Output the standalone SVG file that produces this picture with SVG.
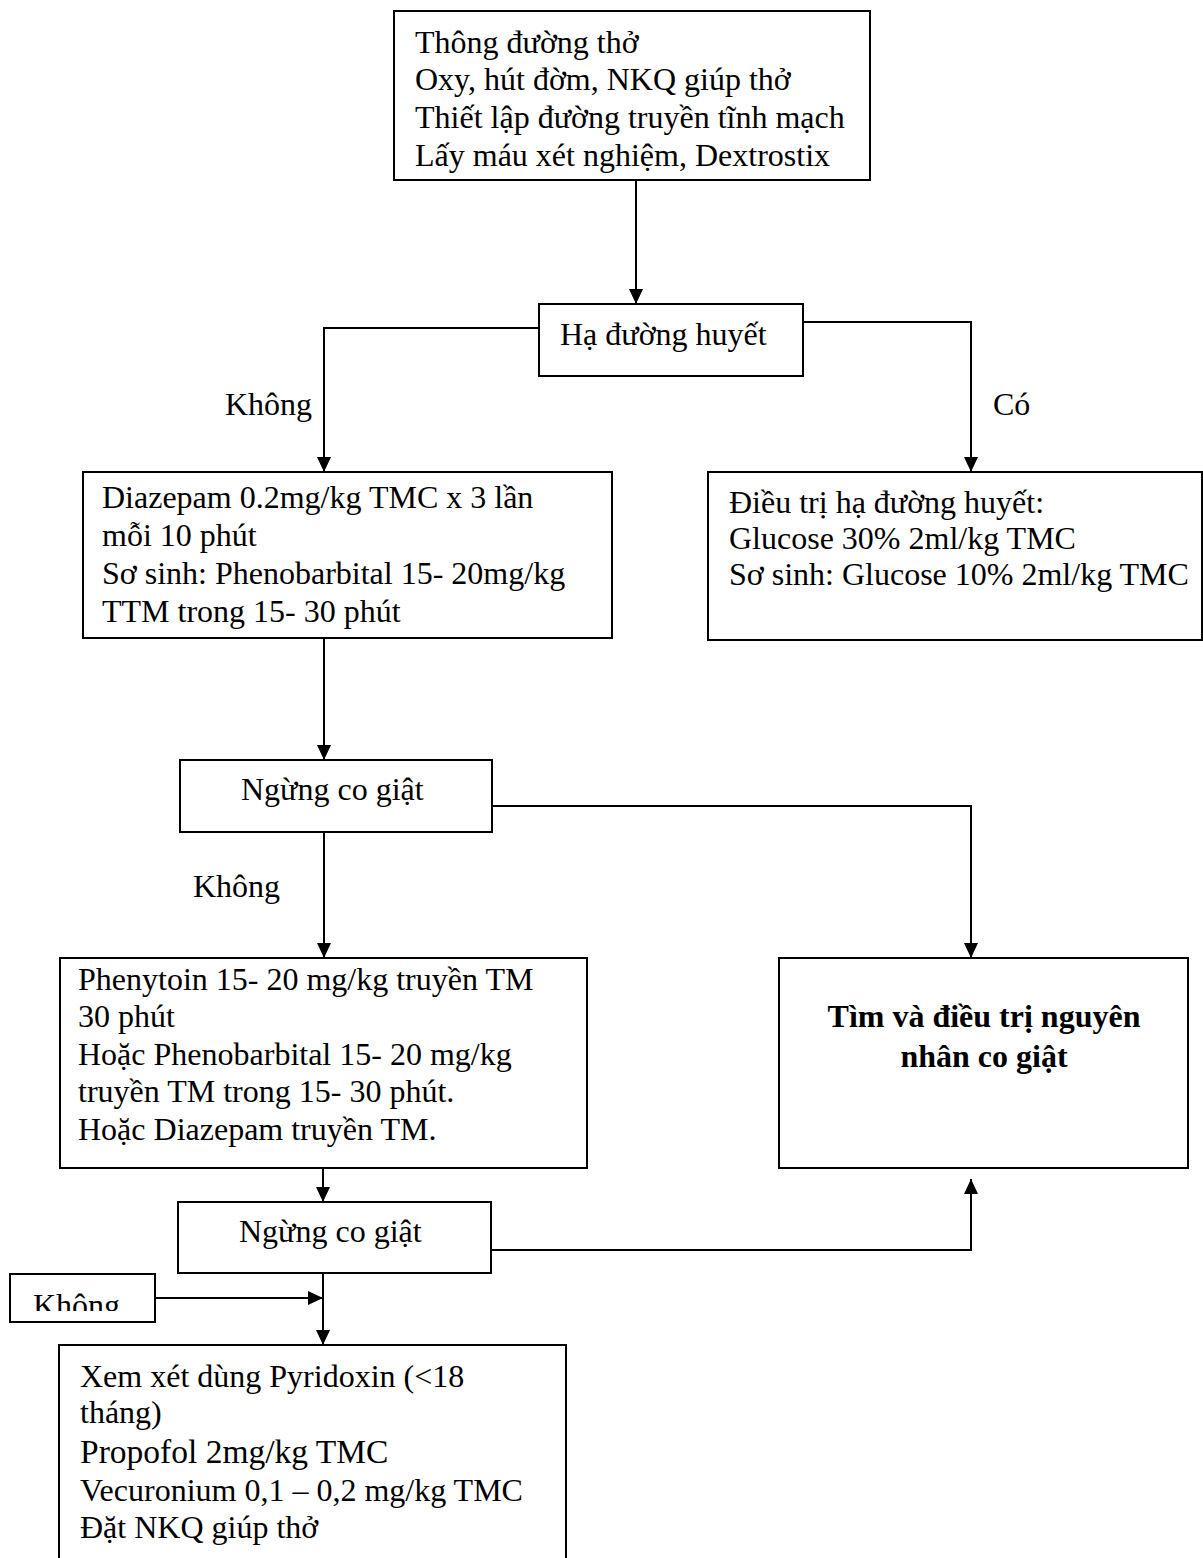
<svg xmlns="http://www.w3.org/2000/svg" width="1203" height="1558" viewBox="0 0 1203 1558">
<style>
.box{fill:#fff;stroke:#000;stroke-width:2}
.t{font-family:"Liberation Serif","Times New Roman",serif;font-size:32px;fill:#000}
.b{font-weight:bold}
.c{fill:none;stroke:#000;stroke-width:2}
</style>
<defs>
<marker id="ah" viewBox="0 0 15 14" refX="15" refY="7" markerWidth="15" markerHeight="14" markerUnits="userSpaceOnUse" orient="auto">
<path d="M0,0 L15,7 L0,14 z" fill="#000"/>
</marker>
<clipPath id="kclip"><rect x="10" y="1274" width="145" height="37"/></clipPath>
</defs>
<rect width="1203" height="1558" fill="#fff"/>
<g id="connectors">
<path class="c" d="M636,180 V304" marker-end="url(#ah)"/>
<path class="c" d="M539,328 H324 V472" marker-end="url(#ah)"/>
<path class="c" d="M803,322 H971 V472" marker-end="url(#ah)"/>
<path class="c" d="M324,638 V760" marker-end="url(#ah)"/>
<path class="c" d="M492,806 H971 V958" marker-end="url(#ah)"/>
<path class="c" d="M324,832 V958" marker-end="url(#ah)"/>
<path class="c" d="M323,1168 V1202" marker-end="url(#ah)"/>
<path class="c" d="M323,1273 V1345" marker-end="url(#ah)"/>
<path class="c" d="M155,1298 H323" marker-end="url(#ah)"/>
<path class="c" d="M491,1250 H971 V1179" marker-end="url(#ah)"/>
<text class="t" x="225" y="415">Không</text>
<text class="t" x="993" y="415">Có</text>
<text class="t" x="193" y="897">Không</text>
</g>
<g id="n-start">
<rect class="box" x="394" y="11" width="476" height="169"/>
<text class="t" x="415" y="53">Thông đường thở</text>
<text class="t" x="415" y="90">Oxy, hút đờm, NKQ giúp thở</text>
<text class="t" x="415" y="128">Thiết lập đường truyền tĩnh mạch</text>
<text class="t" x="415" y="166">Lấy máu xét nghiệm, Dextrostix</text>
</g>
<g id="n-hypo">
<rect class="box" x="539" y="304" width="264" height="72"/>
<text class="t" x="560" y="345">Hạ đường huyết</text>
</g>
<g id="n-diazepam">
<rect class="box" x="83" y="472" width="529" height="166"/>
<text class="t" x="102" y="508">Diazepam 0.2mg/kg TMC x 3 lần</text>
<text class="t" x="102" y="546">mỗi 10 phút</text>
<text class="t" x="102" y="584">Sơ sinh: Phenobarbital 15- 20mg/kg</text>
<text class="t" x="102" y="622">TTM trong 15- 30 phút</text>
</g>
<g id="n-glucose">
<rect class="box" x="708" y="472" width="494" height="168"/>
<text class="t" x="729" y="513">Điều trị hạ đường huyết:</text>
<text class="t" x="729" y="549">Glucose 30% 2ml/kg TMC</text>
<text class="t" x="729" y="585">Sơ sinh: Glucose 10% 2ml/kg TMC</text>
</g>
<g id="n-stop1">
<rect class="box" x="180" y="760" width="312" height="72"/>
<text class="t" x="241" y="800">Ngừng co giật</text>
</g>
<g id="n-phenytoin">
<rect class="box" x="60" y="958" width="527" height="210"/>
<text class="t" x="78" y="990">Phenytoin 15- 20 mg/kg truyền TM</text>
<text class="t" x="78" y="1027">30 phút</text>
<text class="t" x="78" y="1065">Hoặc Phenobarbital 15- 20 mg/kg</text>
<text class="t" x="78" y="1102">truyền TM trong 15- 30 phút.</text>
<text class="t" x="78" y="1140">Hoặc Diazepam truyền TM.</text>
</g>
<g id="n-cause">
<rect class="box" x="779" y="958" width="409" height="210"/>
<text class="t b" x="984" y="1027" text-anchor="middle">Tìm và điều trị nguyên</text>
<text class="t b" x="984" y="1067" text-anchor="middle">nhân co giật</text>
</g>
<g id="n-stop2">
<rect class="box" x="178" y="1202" width="313" height="71"/>
<text class="t" x="239" y="1242">Ngừng co giật</text>
</g>
<g id="n-khong">
<rect class="box" x="10" y="1274" width="145" height="48"/>
<text class="t" x="33" y="1316" clip-path="url(#kclip)">Không</text>
</g>
<g id="n-final">
<rect class="box" x="59" y="1345" width="507" height="260"/>
<text class="t" x="80" y="1387">Xem xét dùng Pyridoxin (&lt;18</text>
<text class="t" x="80" y="1423">tháng)</text>
<text class="t" x="80" y="1463" style="font-size:33.5px">Propofol 2mg/kg TMC</text>
<text class="t" x="80" y="1501">Vecuronium 0,1 – 0,2 mg/kg TMC</text>
<text class="t" x="80" y="1538">Đặt NKQ giúp thở</text>
</g>
</svg>
